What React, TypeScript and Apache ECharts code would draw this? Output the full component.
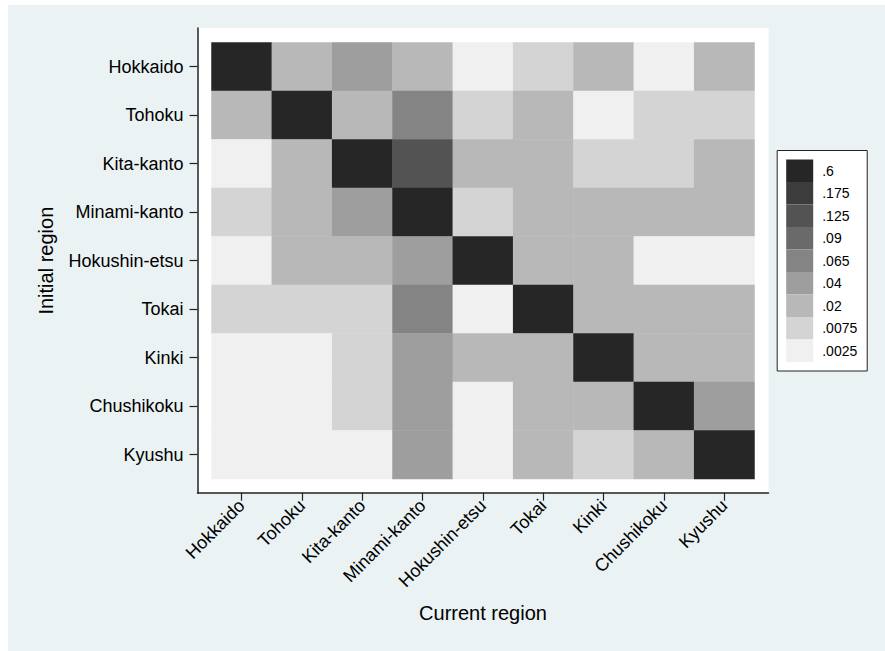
import React, { useEffect, useRef } from "react";
import * as echarts from "echarts";

const regions = [
  "Hokkaido",
  "Tohoku",
  "Kita-kanto",
  "Minami-kanto",
  "Hokushin-etsu",
  "Tokai",
  "Kinki",
  "Chushikoku",
  "Kyushu",
];

const shares: number[][] = [
  [0.85, 0.02, 0.04, 0.02, 0.0025, 0.0075, 0.02, 0.0025, 0.02],
  [0.02, 0.82, 0.02, 0.065, 0.0075, 0.02, 0.0025, 0.0075, 0.0075],
  [0.0025, 0.02, 0.78, 0.125, 0.02, 0.02, 0.0075, 0.0075, 0.02],
  [0.0075, 0.02, 0.04, 0.86, 0.0075, 0.02, 0.02, 0.02, 0.02],
  [0.0025, 0.02, 0.02, 0.04, 0.84, 0.02, 0.02, 0.0025, 0.0025],
  [0.0075, 0.0075, 0.0075, 0.065, 0.0025, 0.83, 0.02, 0.02, 0.02],
  [0.0025, 0.0025, 0.0075, 0.04, 0.02, 0.02, 0.85, 0.02, 0.02],
  [0.0025, 0.0025, 0.0075, 0.04, 0.0025, 0.02, 0.02, 0.84, 0.04],
  [0.0025, 0.0025, 0.0025, 0.04, 0.0025, 0.02, 0.0075, 0.02, 0.86],
];

const legendLabels = [".0025", ".0075", ".02", ".04", ".065", ".09", ".125", ".175", ".6"];
const legendBounds = [0, 0.005, 0.01, 0.03, 0.05, 0.08, 0.1, 0.15, 0.2, 1];
const shadeColors = [
  "#f0f0f0",
  "#d4d4d4",
  "#b8b8b8",
  "#9e9e9e",
  "#848484",
  "#6a6a6a",
  "#535353",
  "#3c3c3c",
  "#262626",
];

const FONT = "'Liberation Sans', Arial, sans-serif";

export default function App() {
  const ref = useRef<HTMLDivElement>(null);

  useEffect(() => {
    if (!ref.current) return;
    const chart = echarts.init(ref.current, undefined, { renderer: "svg" });

    const data: number[][] = [];
    shares.forEach((row, r) => {
      row.forEach((v, c) => data.push([c, r, v]));
    });

    const pieces = legendLabels.map((label, i) => ({
      min: legendBounds[i],
      max: legendBounds[i + 1],
      label,
      color: shadeColors[i],
    }));

    const labelStyle = { fontFamily: FONT, fontSize: 18, color: "#000" };
    const nameStyle = { fontFamily: FONT, fontSize: 20, color: "#000" };

    chart.setOption({
      animation: false,
      backgroundColor: "#eaf2f3",
      grid: [
        {
          // plot region (white) with axis lines
          left: 189.5,
          top: 23,
          width: 571,
          height: 465,
          show: true,
          backgroundColor: "#ffffff",
          borderWidth: 0,
        },
        {
          // cell region
          left: 203.5,
          top: 37.4,
          width: 543,
          height: 436.5,
          show: false,
        },
      ],
      xAxis: [
        {
          gridIndex: 0,
          type: "value",
          min: 0,
          max: 1,
          axisLine: { show: true, lineStyle: { color: "#222", width: 1.5 } },
          axisTick: { show: false },
          axisLabel: { show: false },
          splitLine: { show: false },
        },
        {
          gridIndex: 1,
          type: "category",
          data: regions,
          position: "bottom",
          offset: 13.8,
          name: "Current region",
          nameLocation: "middle",
          nameGap: 110,
          nameMoveOverlap: false,
          nameTextStyle: nameStyle,
          axisLine: { show: false },
          axisTick: {
            show: true,
            alignWithLabel: true,
            length: 8,
            lineStyle: { color: "#222", width: 1.2 },
          },
          axisLabel: {
            rotate: 45,
            margin: 10,
            interval: 0,
            ...labelStyle,
          },
          splitLine: { show: false },
        },
      ],
      yAxis: [
        {
          gridIndex: 0,
          type: "value",
          min: 0,
          max: 1,
          axisLine: { show: true, lineStyle: { color: "#222", width: 1.5 } },
          axisTick: { show: false },
          axisLabel: { show: false },
          splitLine: { show: false },
        },
        {
          gridIndex: 1,
          type: "category",
          data: regions,
          inverse: true,
          position: "left",
          offset: 14,
          name: "Initial region",
          nameLocation: "middle",
          nameGap: 142,
          nameMoveOverlap: false,
          nameTextStyle: nameStyle,
          axisLine: { show: false },
          axisTick: {
            show: true,
            alignWithLabel: true,
            length: 8,
            lineStyle: { color: "#222", width: 1.2 },
          },
          axisLabel: {
            margin: 14,
            interval: 0,
            ...labelStyle,
          },
          splitLine: { show: false },
        },
      ],
      visualMap: {
        type: "piecewise",
        dimension: 2,
        seriesIndex: 0,
        pieces,
        orient: "vertical",
        align: "left",
        left: 768.7,
        top: 145,
        itemWidth: 27,
        itemHeight: 22.5,
        itemGap: 0,
        textGap: 9,
        itemSymbol: "rect",
        selectedMode: false,
        backgroundColor: "#ffffff",
        borderColor: "#222",
        borderWidth: 1,
        padding: [9, 10, 9, 9],
        textStyle: { fontFamily: FONT, fontSize: 14, color: "#000" },
      },
      series: [
        {
          type: "heatmap",
          xAxisIndex: 1,
          yAxisIndex: 1,
          data,
          itemStyle: { borderWidth: 0 },
        },
      ],
    });

    return () => chart.dispose();
  }, []);

  return (
    <div
      ref={ref}
      style={{ position: "absolute", left: 8, top: 5, width: 877, height: 646 }}
    />
  );
}
